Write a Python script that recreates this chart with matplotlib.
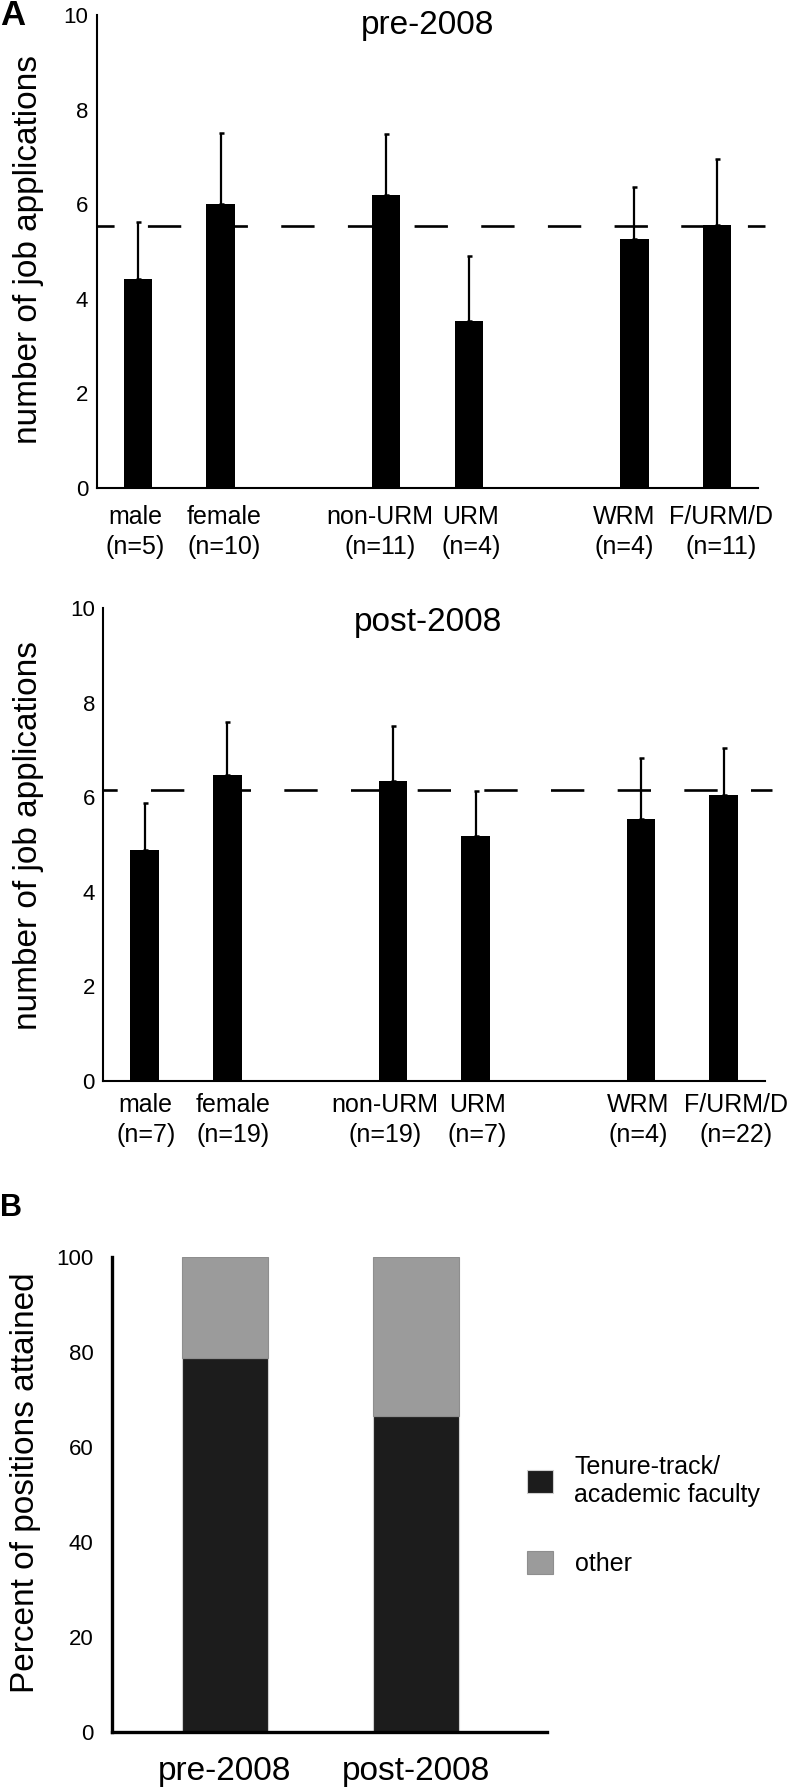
import numpy as np
import matplotlib
matplotlib.use('Agg')
import matplotlib.pyplot as plt
from matplotlib.patches import Patch

plt.rcParams['font.family'] = ['Liberation Sans', 'DejaVu Sans']
plt.rcParams['lines.scale_dashes'] = False

W, H = 791, 1788

# panel A: mean number of applications per group (blank slots separate the groupings)
groups = ['male', 'female', '', 'non-URM', 'URM', '', 'WRM', 'F/URM/D']
pre_n = [5, 10, None, 11, 4, None, 4, 11]
post_n = [7, 19, None, 19, 7, None, 4, 22]
pre_mean = [4.41, 6.01, 0, 6.20, 3.52, 0, 5.27, 5.56]
pre_err = [1.21, 1.50, 0, 1.28, 1.39, 0, 1.10, 1.40]
pre_overall = 5.54
post_mean = [4.89, 6.47, 0, 6.35, 5.18, 0, 5.55, 6.05]
post_err = [1.00, 1.13, 0, 1.17, 0.95, 0, 1.29, 0.99]
post_overall = 6.16

# panel B: positions attained
periods = ['pre-2008', 'post-2008']
tenure_pct = [78.7, 66.5]
other_pct = [21.3, 33.5]


def box(l, t, r, b):
    # pixel box -> figure fraction rect
    return [l / W, 1 - b / H, (r - l) / W, (b - t) / H]


def fx(x):
    return x / W


def fy(y):
    return 1 - y / H


fig = plt.figure(figsize=(W / 100, H / 100), dpi=100)


def panel_a(rect, mean, err, n, overall, dash_off, xpad, nudge):
    ax = fig.add_axes(rect)
    x = np.arange(len(groups))
    ax.bar(x, mean, width=0.345, color='black', zorder=2)
    lower = np.zeros(len(err))
    ax.errorbar(x, mean, yerr=[lower, err], fmt='none', ecolor='black',
                elinewidth=1.6, capsize=1.8, capthick=1.8, zorder=3)
    ax.axhline(overall, xmin=0, xmax=1.01, color='black', lw=1.9,
               ls=(dash_off, (24, 24)), clip_on=False, zorder=4)
    # category labels: hand-placed in the original, slightly off the bar centres
    ax.set_xticks([])
    for i, (g, k) in enumerate(zip(groups, n)):
        if not g:
            continue
        ax.annotate('{}\n(n={})'.format(g, k), xy=(x[i], 0),
                    xycoords=('data', 'axes fraction'),
                    xytext=(nudge[i] * 0.72, -xpad), textcoords='offset points',
                    ha='center', va='top', fontsize=18, linespacing=1.3)
    ax.set_xlim(-0.5, 7.5)
    ax.set_ylim(0, 10)
    ax.set_yticks([0, 2, 4, 6, 8, 10])
    ax.tick_params(axis='y', length=0, pad=6, labelsize=16)
    for s in ['top', 'right']:
        ax.spines[s].set_visible(False)
    for s in ['left', 'bottom']:
        ax.spines[s].set_linewidth(1.5)
    return ax


panel_a(box(96.7, 15, 758.3, 487.7), pre_mean, pre_err, pre_n, pre_overall,
        11.7, 12.5, [-3, 3, 0, -6, 2, 0, -10, 4])
panel_a(box(103.3, 608.3, 765, 1081), post_mean, post_err, post_n, post_overall,
        13.8, 8.6, [1, 6, 0, -8, 1.5, 0, -3, 12])

fig.text(fx(427.5), fy(34), 'pre-2008', ha='center', va='baseline', fontsize=24)
fig.text(fx(428), fy(630.6), 'post-2008', ha='center', va='baseline', fontsize=24)
fig.text(fx(29), fy(249), 'number of job applications', rotation=90,
         ha='center', va='center', fontsize=24)
fig.text(fx(29), fy(835.5), 'number of job applications', rotation=90,
         ha='center', va='center', fontsize=24)
fig.text(0, fy(25), 'A', fontweight='bold', fontsize=25, va='baseline', ha='left')
fig.text(0, fy(1216), 'B', fontweight='bold', fontsize=22, va='baseline', ha='left')

# panel B
axb = fig.add_axes(box(111.5, 1257.2, 547.4, 1731.9))
xb = np.arange(len(periods))
axb.bar(xb, tenure_pct, width=0.45, color='#1c1c1c', edgecolor='#cfcfcf', lw=0.8,
        label='Tenure-track/\nacademic faculty')
axb.bar(xb, other_pct, bottom=tenure_pct, width=0.45, color='#9b9b9b',
        edgecolor='#8e8e8e', lw=0.8, label='other')
axb.set_xlim(-0.595, 1.69)
axb.set_ylim(0, 100)
axb.set_yticks([0, 20, 40, 60, 80, 100])
axb.set_xticks(xb)
axb.set_xticklabels(periods, fontsize=24)
axb.tick_params(axis='x', length=0, pad=17)
axb.tick_params(axis='y', length=0, pad=13, labelsize=16)
for s in ['top', 'right']:
    axb.spines[s].set_visible(False)
for s in ['left', 'bottom']:
    axb.spines[s].set_linewidth(2.4)
fig.text(fx(26), fy(1483), 'Percent of positions attained', rotation=90,
         ha='center', va='center', fontsize=24)

handles = [Patch(facecolor='#1c1c1c', edgecolor='#cfcfcf', lw=0.8),
           Patch(facecolor='#9b9b9b', edgecolor='#8e8e8e', lw=0.8)]
fig.legend(handles, ['Tenure-track/\nacademic faculty', 'other'],
           loc='upper left', bbox_to_anchor=(fx(527), fy(1455)),
           frameon=False, fontsize=18, borderpad=0, borderaxespad=0,
           handlelength=1.04, handleheight=1.04, handletextpad=0.86,
           labelspacing=1.75)

fig.savefig('out.png', dpi=100)
